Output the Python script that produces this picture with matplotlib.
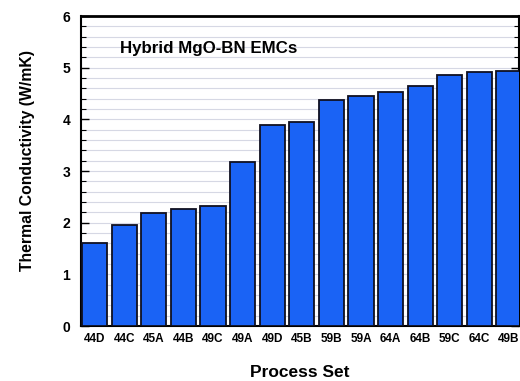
import matplotlib
matplotlib.use("Agg")
import matplotlib.pyplot as plt
import numpy as np
from matplotlib.ticker import MultipleLocator

plt.rcParams['font.family'] = ['Liberation Sans', 'DejaVu Sans']
plt.rcParams['font.weight'] = 'bold'

# data
process_sets = ["44D", "44C", "45A", "44B", "49C", "49A", "49D", "45B",
                "59B", "59A", "64A", "64B", "59C", "64C", "49B"]
conductivity = [1.60, 1.96, 2.19, 2.26, 2.32, 3.18, 3.90, 3.95,
                4.38, 4.45, 4.53, 4.64, 4.86, 4.91, 4.93]

fig = plt.figure(figsize=(5.2, 3.81), dpi=100)
ax = fig.add_axes([0.156, 0.144, 0.842, 0.814])

x = np.arange(len(process_sets))
ax.bar(x, conductivity, width=0.85, color="#1a63f5", edgecolor="#101020",
       linewidth=1.3, zorder=3)

ax.set_xlim(-0.46, 14.34)
ax.set_ylim(0, 6)
ax.yaxis.set_major_locator(MultipleLocator(1))
ax.yaxis.set_minor_locator(MultipleLocator(0.2))
ax.grid(axis="y", which="both", color="#d6d8e4", linewidth=0.8, zorder=0)

ax.set_xticks(x)
ax.set_xticklabels(process_sets, fontsize=8.5, fontweight="bold")
ax.tick_params(axis="x", length=0, pad=5)
ax.tick_params(axis="y", which="major", direction="in", length=6, width=1,
               labelsize=10, right=True, pad=8)
ax.tick_params(axis="y", which="minor", direction="in", length=3.5, width=0.8,
               right=True)
for lab in ax.get_yticklabels():
    lab.set_fontweight("bold")

for side in ["left", "bottom", "top", "right"]:
    ax.spines[side].set_linewidth(1.5)
ax.spines["top"].set_linewidth(2)

ax.set_ylabel("Thermal Conductivity (W/mK)", fontsize=11.3, fontweight="bold",
              labelpad=19.5)
ax.yaxis.label.set_y(0.535)
ax.set_xlabel("Process Set", fontsize=12.5, fontweight="bold", labelpad=14)
ax.text(0.089, 0.895, "Hybrid MgO-BN EMCs", transform=ax.transAxes,
        fontsize=12.2, fontweight="bold", va="center")

fig.savefig("out.png", dpi=100)
